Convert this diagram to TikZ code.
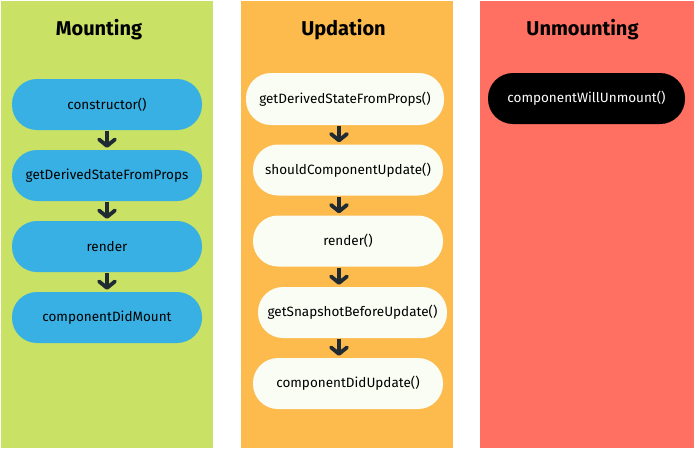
\documentclass[tikz,border=0pt]{standalone}
\usepackage{fontspec}
\setmainfont{Fira Sans}
\usetikzlibrary{arrows.meta}
\definecolor{mgreen}{HTML}{C9E265}
\definecolor{uorange}{HTML}{FDBA4D}
\definecolor{ured}{HTML}{FF7062}
\definecolor{mblue}{HTML}{38B0E3}
\definecolor{uwhite}{HTML}{FAFDF3}
\definecolor{arrcol}{HTML}{1F2A33}
\tikzset{
  title/.style={font=\fontsize{20}{24}\selectfont\bfseries, text=black},
  pill/.style={rectangle, rounded corners=25pt, minimum height=51pt, minimum width=190pt, inner sep=0pt, font=\fontsize{13.5}{16}\selectfont},
  bluepill/.style={pill, fill=mblue, text=black},
  whitepill/.style={pill, fill=uwhite, text=black},
  blackpill/.style={pill, fill=black, text=white},
  arr/.style={draw=arrcol, line width=3.8pt, -{Straight Barb[length=6.5pt,width=16pt,line cap=round,line join=round]}}
}
\begin{document}
\begin{tikzpicture}[x=1pt,y=-1pt]
\useasboundingbox (0,0) rectangle (694,448);
\fill[white] (0,0) rectangle (694,448);
\fill[mgreen] (1,1) rectangle (213,448);
\fill[uorange] (241,1) rectangle (453,448);
\fill[ured] (480,1) rectangle (694,448);

\node[title] (tm) at (99,30) {Mounting};
\node[title] (tu) at (343.5,30) {Updation};
\node[title] (tn) at (582.5,30) {Unmounting};

\node[bluepill] (m1) at (107,104.5) {constructor()};
\node[bluepill] (m2) at (107,175.5) {getDerivedStateFromProps};
\node[bluepill] (m3) at (107,246.5) {render};
\node[bluepill] (m4) at (107,317.5) {componentDidMount};

\node[whitepill, minimum width=198pt, minimum height=52pt] (u1) at (345,99) {getDerivedStateFromProps()};
\node[whitepill] (u2) at (348,170) {shouldComponentUpdate()};
\node[whitepill] (u3) at (348,241) {render()};
\node[whitepill, minimum width=189pt] (u4) at (352.5,312.5) {getSnapshotBeforeUpdate()};
\node[whitepill] (u5) at (348,383.5) {componentDidUpdate()};

\node[blackpill, minimum width=197pt] (n1) at (586.5,98.5) {componentWillUnmount()};

\coordinate (mx) at (107,0);
\coordinate (ux) at (339,0);
\draw[arr] ([yshift=-1pt]m1.south -| mx) -- ([yshift=2pt]m2.north -| mx);
\draw[arr] ([yshift=-1pt]m2.south -| mx) -- ([yshift=2pt]m3.north -| mx);
\draw[arr] ([yshift=-1pt]m3.south -| mx) -- ([yshift=2pt]m4.north -| mx);
\draw[arr] ([yshift=-1pt]u1.south -| ux) -- ([yshift=2pt]u2.north -| ux);
\draw[arr] ([yshift=-1pt]u2.south -| ux) -- ([yshift=2pt]u3.north -| ux);
\draw[arr] ([yshift=-1pt]u3.south -| ux) -- ([yshift=2pt]u4.north -| ux);
\draw[arr] ([yshift=-1pt]u4.south -| ux) -- ([yshift=2pt]u5.north -| ux);
\end{tikzpicture}
\end{document}
